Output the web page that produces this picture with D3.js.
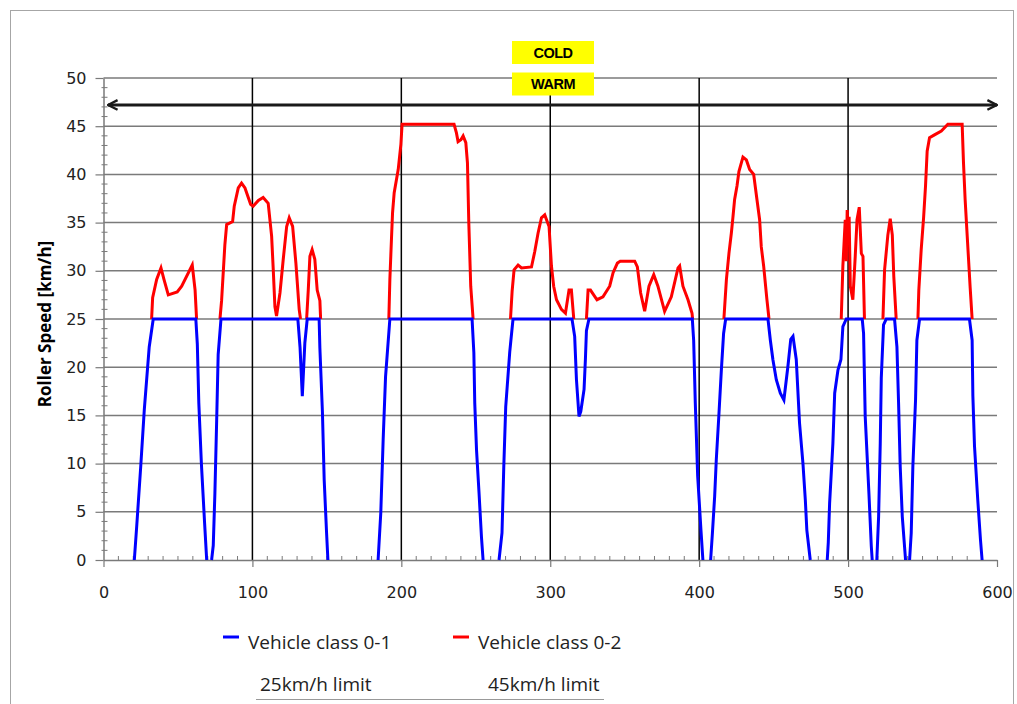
<!DOCTYPE html>
<html>
<head>
<meta charset="utf-8">
<script src="https://cdn.jsdelivr.net/npm/d3@7"></script>
<style>
body { margin: 0; background: #fff; }
svg { display: block; }
.tick text { font-family: "DejaVu Sans", sans-serif; font-size: 16px; fill: #222; }
</style>
</head>
<body>
<svg class="chart"></svg>
<script>
var width = 1017,
    height = 704;

// speed profiles, [time (s), speed (km/h)], null = break in the line
var class01 = [
  [20.7,0],[22.3,3.5],[25,9.7],[27.4,15.6],[30.7,22.1],[33.4,25],[62,25],[63,22.4],[64,16.3],[65.7,10.1],[67.9,3.8],[69.3,0],
  null,
  [72.6,0],[73.7,1.5],[74.8,6.9],[76,14.5],[77,21.3],[78.9,25],[130.5,25],[132,22],[133.5,17],[135.2,22.5],[136.8,25],
  [144.8,25],[145.3,22],[147,15.4],[148.2,8.3],[149.8,2.8],[150.7,0],
  null,
  [184.4,0],[186.2,4.9],[187.8,12.5],[189.4,19],[192.3,25],[247.5,25],[248.7,21.5],[249.3,16.3],[250.5,11.4],[252.2,6.9],[253.8,2.4],[254.9,0],
  null,
  [265.6,0],[267.6,2.8],[268.8,9.7],[270.1,15.9],[272.8,21.6],[275,25],[314.6,25],[316.4,23.2],[317.6,18.7],[319.3,14.9],[320.5,15.4],
  [322.7,17.7],[323.6,20.8],[324.3,23.8],[326,25],[395.4,25],[396.3,22.8],[397.4,16.3],[399,8.7],[401.2,3.1],[402.5,0],
  null,
  [407.7,0],[408.9,2.8],[410.4,6.6],[411.5,10.4],[413.3,15.2],[414.9,19.7],[416.4,23.5],[417.8,25],[446.2,25],[447.8,22.8],
  [449.5,20.8],[451.8,18.7],[454.5,17.3],[456.9,16.6],[459.6,20.1],[461.5,22.9],[463,23.2],[465.2,20.8],[467.4,14.2],[469.7,10],
  [471.3,6.2],[472.3,3.1],[474.6,0],
  null,
  [486,0],[486.7,1.8],[487.6,5.9],[489.8,12.1],[491,17.3],[493.2,19.7],[495.2,20.8],[496.5,24.2],[498.8,25],[509.5,25],
  [510.4,23.5],[511.5,14.9],[514,6.9],[515.6,1.4],[516.2,0],
  null,
  [519.3,0],[520.5,4.5],[521.6,12.1],[522.3,18.9],[523.8,24.4],[525.6,25],[531.2,25],[532.8,22.1],[533.9,16.3],[535,9.7],[536.4,4.5],[538.6,0],
  null,
  [541.3,0],[542.4,2.8],[543.5,9.7],[545.3,16.6],[546.2,22.8],[548,25],[581.5,25],[583.3,22.8],[583.8,17],[584.9,11.8],
  [587.1,6.2],[588.9,2.1],[590,0]
];

// class 0-2 only where it runs above the 25 km/h cap
var class02 = [
  [32.3,25],[33,27.2],[35.7,29.1],[38.6,30.3],[40.6,29.1],[43.5,27.5],[49.5,27.8],[52.5,28.4],[59.6,30.6],[61.5,28],[62.5,25],
  null,
  [78.2,25],[79.3,26.9],[81.5,32.7],[82.7,34.8],[86.7,35.1],[87.8,36.7],[90.5,38.6],[92.7,39.1],[95,38.6],[98.8,36.9],
  [100.5,36.7],[104,37.3],[107.2,37.6],[110.6,37],[112.9,33.6],[114,30.1],[115.1,26.3],[116.2,25.3],[118.5,27.7],[120.7,31.2],
  [123,34.6],[124.7,35.5],[127,34.6],[129.2,30.8],[131.4,26],[132.3,25],
  null,
  [136.4,25],[137.5,28],[138.6,31.5],[140.1,32.2],[141.9,31.2],[143.5,28],[145.3,26.9],[145.8,25],
  null,
  [191.6,25],[192.3,29.1],[193.4,33.4],[194.1,36],[195.2,38.1],[197.9,40.5],[199.7,43.1],[200.5,45.2],[235.4,45.2],[237,44.3],
  [238.1,43.4],[240,43.6],[241.5,44],[243.3,43.3],[244.4,41.2],[245.3,35],[246.6,28.4],[248.2,25],
  null,
  [273.3,25],[274.4,27.9],[275.7,30.1],[278.4,30.6],[280.7,30.3],[287.4,30.4],[289.6,32],[291.8,33.9],[294.1,35.5],[296.3,35.8],
  [299.2,34.6],[300.8,30.5],[302.3,28.4],[304.2,27],[307.5,26],[310.2,25.6],[312.6,28],[314.2,28],[315.8,25],
  null,
  [324.3,25],[325.4,28],[327,28],[331.4,27],[335.4,27.3],[339.9,28.4],[342.2,29.8],[345.1,30.8],[347,31],[356.7,31],
  [358.5,30.4],[360.7,27.7],[363.4,25.8],[366.3,28.4],[369.5,29.6],[372.3,28.4],[376.8,25.8],[381.3,27.3],[385.8,30.3],
  [386.9,30.5],[389.1,28.4],[392.5,27],[395.2,25.6],[395.6,25],
  null,
  [416.6,25],[418.3,29.1],[420,31.8],[421.6,33.9],[422.7,35.6],[423.8,37.4],[425.4,38.8],[426.7,40.3],[429.4,41.8],[431.7,41.5],
  [433.9,40.5],[436.6,40],[438.8,37.4],[440.6,35.3],[441.7,32.5],[443.3,30.5],[445.5,27],[446.9,25],
  null,
  [495.4,25],[496.5,30.5],[498.1,35.3],[498.8,31],[499.4,36.3],[500.2,33],[500.7,35.6],[501.5,28.4],[503.2,27],[504.8,31.5],
  [506,35.3],[507.5,36.6],[508.9,31.8],[510,31.5],[511,25],
  null,
  [523.4,25],[524.5,30.1],[526.7,33.7],[528.3,35.4],[529.7,33.7],[530.7,29.4],[532.3,25],
  null,
  [546.9,25],[547.5,28],[549.1,32.2],[550.7,35.5],[552,38.8],[553.1,42.4],[554.7,43.8],[558,44.1],[562.6,44.5],[567,45.2],
  [576.6,45.2],[577.5,41.2],[578.6,37.4],[580,33.6],[582,28.2],[583.3,25]
];

var xTicks = [0, 100, 200, 300, 400, 500, 600];
var yTicks = [0, 5, 10, 15, 20, 25, 30, 35, 40, 45, 50];
var phaseLabels = ["COLD", "WARM"];
var seriesNames = ["Vehicle class 0-1", "Vehicle class 0-2"];
var limitLabels = ["25km/h limit", "45km/h limit"];
var yTitle = "Roller Speed [km/h]";
var arrowLevel = 47.2; // km/h, where the cold/warm arrow sits

var x = d3.scaleLinear()
    .domain([0, 600])
    .range([103.5, 997]);
var y = d3.scaleLinear()
    .domain([0, 50])
    .range([560, 78]);

var chart = d3.select(".chart")
    .attr("width", width)
    .attr("height", height);

// chart area border
chart.append("rect")
    .attr("x", 10.5).attr("y", 10.5)
    .attr("width", 1003).attr("height", 720)
    .attr("fill", "#fff")
    .attr("stroke", "#a6a6a6");

// horizontal gridlines
chart.append("g").selectAll("line")
    .data(yTicks.slice(1))
  .enter().append("line")
    .attr("x1", x(0)).attr("x2", x(600))
    .attr("y1", function(d) { return y(d); })
    .attr("y2", function(d) { return y(d); })
    .attr("stroke", "#7a7a7a")
    .attr("stroke-width", 1.5);

// black vertical lines every 100 s
chart.append("g").selectAll("line")
    .data(xTicks.slice(1, -1))
  .enter().append("line")
    .attr("x1", function(d) { return x(d); })
    .attr("x2", function(d) { return x(d); })
    .attr("y1", y(50)).attr("y2", y(0))
    .attr("stroke", "#000")
    .attr("stroke-width", 1.5);

// axes
var xAxis = chart.append("g")
    .attr("transform", "translate(0," + y(0) + ")")
    .call(d3.axisBottom(x).tickValues(xTicks).tickSize(7).tickSizeOuter(0).tickPadding(20));
var yAxis = chart.append("g")
    .attr("transform", "translate(" + x(0) + ",0)")
    .call(d3.axisLeft(y).tickValues(yTicks).tickSize(8).tickSizeOuter(0).tickPadding(9));
chart.selectAll(".domain").attr("stroke", "#7a7a7a").attr("stroke-width", 1.5);
chart.selectAll(".tick line").attr("stroke", "#7a7a7a").attr("stroke-width", 1.2);

// minor ticks
chart.append("g").selectAll("line")
    .data(d3.range(10, 600, 10).filter(function(d) { return d % 100; }))
  .enter().append("line")
    .attr("x1", function(d) { return x(d); })
    .attr("x2", function(d) { return x(d); })
    .attr("y1", y(0)).attr("y2", y(0) - 4)
    .attr("stroke", "#7a7a7a");
chart.append("g").selectAll("line")
    .data(d3.range(1, 50, 1).filter(function(d) { return d % 5; }))
  .enter().append("line")
    .attr("x1", x(0) - 2).attr("x2", x(0) + 4)
    .attr("y1", function(d) { return y(d); })
    .attr("y2", function(d) { return y(d); })
    .attr("stroke", "#7a7a7a");

chart.append("text")
    .attr("transform", "translate(51," + 324 + ") rotate(-90)")
    .attr("text-anchor", "middle")
    .style("font-family", "'Open Sans', sans-serif")
    .style("font-weight", "bold")
    .style("font-size", "17px")
    .text(yTitle);

// speed lines
var line = d3.line()
    .defined(function(d) { return d !== null; })
    .x(function(d) { return x(d[0]); })
    .y(function(d) { return y(d[1]); });

chart.append("path")
    .datum(class02)
    .attr("d", line)
    .attr("fill", "none")
    .attr("stroke", "#ff0000")
    .attr("stroke-width", 3);

chart.append("path")
    .datum(class01)
    .attr("d", line)
    .attr("fill", "none")
    .attr("stroke", "#0000ff")
    .attr("stroke-width", 3);

// double arrow
var defs = chart.append("defs");
defs.append("marker")
    .attr("id", "head")
    .attr("viewBox", "0 0 10 10")
    .attr("refX", 9).attr("refY", 5)
    .attr("markerWidth", 4).attr("markerHeight", 4)
    .attr("orient", "auto-start-reverse")
    .append("path")
    .attr("d", "M1,1 L9,5 L1,9")
    .attr("fill", "none")
    .attr("stroke", "#1a1a1a")
    .attr("stroke-width", 2);

chart.append("line")
    .attr("x1", x(3)).attr("x2", x(600))
    .attr("y1", y(arrowLevel)).attr("y2", y(arrowLevel))
    .attr("stroke", "#1a1a1a")
    .attr("stroke-width", 3)
    .attr("marker-start", "url(#head)")
    .attr("marker-end", "url(#head)");

// COLD / WARM boxes
var phase = chart.append("g").selectAll("g")
    .data(phaseLabels)
  .enter().append("g")
    .attr("transform", function(d, i) { return "translate(553," + (52.5 + i * 31.5) + ")"; });
phase.append("rect")
    .attr("x", -41).attr("y", -11.5)
    .attr("width", 82).attr("height", 23)
    .attr("fill", "#ffff00");
phase.append("text")
    .attr("text-anchor", "middle")
    .attr("dy", "0.36em")
    .style("font-family", "'Liberation Sans', Arial, sans-serif")
    .style("font-weight", "bold")
    .style("font-size", "14.5px")
    .style("letter-spacing", "-0.5px")
    .text(function(d) { return d; });

// legend
var legendColors = ["#0000ff", "#ff0000"];
var legend = chart.append("g").selectAll("g")
    .data(seriesNames)
  .enter().append("g")
    .attr("transform", function(d, i) { return "translate(223," + 0 + ")translate(" + (i * 230) + ",642)"; });
legend.append("line")
    .attr("x1", 0).attr("x2", 16)
    .attr("y1", -5).attr("y2", -5)
    .attr("stroke", function(d, i) { return legendColors[i]; })
    .attr("stroke-width", 3);
legend.append("text")
    .attr("x", 25)
    .attr("dy", "0.36em")
    .style("font-family", "'Open Sans', sans-serif")
    .style("font-size", "19px")
    .style("fill", "#222")
    .text(function(d) { return d; });

chart.append("g").selectAll("text")
    .data(limitLabels)
  .enter().append("text")
    .attr("x", function(d, i) { return 260 + i * 228; })
    .attr("y", 684)
    .attr("dy", "0.36em")
    .style("font-family", "'Open Sans', sans-serif")
    .style("font-size", "19px")
    .style("fill", "#222")
    .text(function(d) { return d; });

chart.append("line")
    .attr("x1", 256).attr("x2", 604)
    .attr("y1", 699.5).attr("y2", 699.5)
    .attr("stroke", "#999");
</script>
</body>
</html>
